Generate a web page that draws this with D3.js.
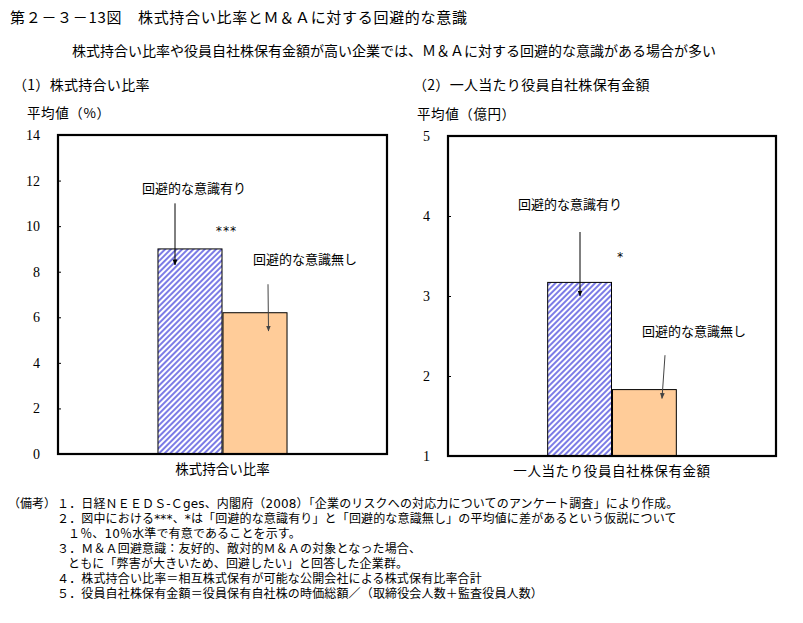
<!DOCTYPE html>
<html><head><meta charset="utf-8">
<script src="https://cdn.jsdelivr.net/npm/d3@7"></script>
<style>
body{margin:0;background:#fff;}
text{font-family:"MS Gothic","Noto Sans CJK JP",sans-serif;fill:#000;}
.num{font-family:"Liberation Serif","DejaVu Serif",serif;}
.note{font-family:"DejaVu Sans","Noto Sans CJK JP",sans-serif;}
.ast{font-family:"DejaVu Sans Mono",monospace;}
</style></head>
<body><svg id="c" width="803" height="623"></svg>
<script>
// ---- data ----
const seriesNames = ["回避的な意識有り", "回避的な意識無し"];
const categories1 = ["株式持合い比率"];
const categories2 = ["一人当たり役員自社株保有金額"];
const values1 = [9.0, 6.2];
const values2 = [3.17, 1.83];
const ticks1 = [0, 2, 4, 6, 8, 10, 12, 14];
const ticks2 = [1, 2, 3, 4, 5];
const signif1 = "***";
const signif2 = "*";
const titleText = "第２－３－13図　株式持合い比率とＭ＆Ａに対する回避的な意識";
const subtitleText = "株式持合い比率や役員自社株保有金額が高い企業では、Ｍ＆Ａに対する回避的な意識がある場合が多い";
const panelTitles = ["（1）株式持合い比率", "（2）一人当たり役員自社株保有金額"];
const yTitles = ["平均値（%）", "平均値（億円）"];
const notesHead = "（備考）";
const notes = [
  "１．日経ＮＥＥＤＳ-Ｃges、内閣府（2008）「企業のリスクへの対応力についてのアンケート調査」により作成。",
  "２．図中における***、*は「回避的な意識有り」と「回避的な意識無し」の平均値に差があるという仮説について",
  "１％、10％水準で有意であることを示す。",
  "３．Ｍ＆Ａ回避意識：友好的、敵対的Ｍ＆Ａの対象となった場合、",
  "ともに「弊害が大きいため、回避したい」と回答した企業群。",
  "４．株式持合い比率＝相互株式保有が可能な公開会社による株式保有比率合計",
  "５．役員自社株保有金額＝役員保有自社株の時価総額／（取締役会人数＋監査役員人数）"
];
const noteIndent = [0, 0, 1, 0, 1, 0, 0];

const svg = d3.select("#c");
const defs = svg.append("defs");
const pat = defs.append("pattern").attr("id","hatch").attr("patternUnits","userSpaceOnUse")
  .attr("width",4).attr("height",4).attr("patternTransform","rotate(45)");
pat.append("rect").attr("width",4).attr("height",4).attr("fill","#fff");
pat.append("rect").attr("width",2).attr("height",4).attr("fill","#7c7ce6");
const mk = defs.append("marker").attr("id","arr").attr("viewBox","0 0 10 10").attr("refX",9).attr("refY",5)
  .attr("markerWidth",6).attr("markerHeight",6).attr("orient","auto");
mk.append("path").attr("d","M0,1 L10,5 L0,9 z").attr("fill","#000");
const mk2 = defs.append("marker").attr("id","arr2").attr("viewBox","0 0 10 10").attr("refX",9).attr("refY",5)
  .attr("markerWidth",6).attr("markerHeight",6).attr("orient","auto");
mk2.append("path").attr("d","M0,1 L10,5 L0,9 z").attr("fill","#444");

// titles
svg.append("text").attr("x",10).attr("y",23).attr("font-size",15).attr("letter-spacing",0.7).text(titleText);
svg.append("text").attr("x",394).attr("y",56).attr("text-anchor","middle").attr("font-size",14).text(subtitleText);
svg.append("text").attr("x",13).attr("y",90).attr("font-size",14).attr("letter-spacing",0.3).text(panelTitles[0]);
svg.append("text").attr("x",413).attr("y",90).attr("font-size",14).attr("letter-spacing",0.3).text(panelTitles[1]);

const fills = ["url(#hatch)", "#ffcc99"];

function panel(cfg){
  const {x0,x1,yTop,yBot,domain,ticks,cats,vals,yTitle,ann} = cfg;
  const g = svg.append("g");
  const y = d3.scaleLinear().domain(domain).range([yBot,yTop]);
  const xb = d3.scaleBand().domain(cats).range([x0,x1]).paddingInner(0).paddingOuter(0.765);
  const xs = d3.scaleBand().domain(seriesNames).range([0,xb.bandwidth()]);
  // y axis
  const ax = g.append("g").attr("transform",`translate(${x0},0)`)
    .call(d3.axisRight(y).tickValues(ticks).tickSize(3).tickFormat(d3.format("d")));
  ax.select(".domain").remove();
  ax.selectAll("line").attr("stroke","#000");
  ax.selectAll("text").remove();
  g.selectAll(".tl").data(ticks).join("text").attr("class","num")
    .attr("x",x0-18).attr("y",d=>y(d)+5).attr("text-anchor","end").attr("font-size",14).text(d=>d);
  g.append("text").attr("x",x0-31).attr("y",yTop-17).attr("font-size",13.5).attr("letter-spacing",0.6).text(yTitle);
  // bars
  cats.forEach(c=>{
    g.selectAll(".bar").data(vals).join("rect")
      .attr("x",(d,i)=>xb(c)+xs(seriesNames[i])+0.5)
      .attr("y",d=>y(d)).attr("width",xs.bandwidth()-1).attr("height",d=>y(domain[0])-y(d))
      .attr("fill",(d,i)=>fills[i]).attr("stroke","#000").attr("stroke-width",1);
    g.append("text").attr("x",xb(c)+xb.bandwidth()/2).attr("y",yBot+20).attr("text-anchor","middle")
      .attr("font-size",13.5).attr("letter-spacing",cfg.lsp||0).text(c);
  });
  // frame
  g.append("rect").attr("x",x0).attr("y",yTop).attr("width",x1-x0).attr("height",yBot-yTop)
    .attr("fill","none").attr("stroke","#000").attr("stroke-width",2.2);
  // annotations
  ann.forEach(a=>{
    if(a.text) g.append("text").attr("class",a.cls||null).attr("x",a.x).attr("y",y(a.v)+(a.dy||5)).attr("text-anchor","middle")
      .attr("font-size",a.fs||13).text(a.text);
    if(a.arrow) g.append("line").attr("x1",a.x).attr("y1",y(a.v)).attr("x2",a.x2).attr("y2",y(a.v2))
      .attr("stroke",a.col||"#000").attr("stroke-width",1).attr("marker-end",a.col?"url(#arr2)":"url(#arr)");
  });
}

panel({x0:58,x1:387,yTop:135,yBot:454,domain:[0,14],ticks:ticks1,cats:categories1,vals:values1,yTitle:yTitles[0],
  ann:[
    {text:seriesNames[0],x:194,v:11.67},
    {arrow:true,x:175,v:11.0,x2:175,v2:8.3},
    {text:signif1,x:226,v:9.9,fs:12,cls:"ast",dy:7},
    {text:seriesNames[1],x:305,v:8.55},
    {arrow:true,x:268,v:7.45,x2:268.5,v2:5.4,col:"#444"}
  ]});
panel({x0:448,x1:776,yTop:136,yBot:456,domain:[1,5],ticks:ticks2,cats:categories2,vals:values2,yTitle:yTitles[1],lsp:0.6,
  ann:[
    {text:seriesNames[0],x:570,v:4.15},
    {arrow:true,x:580,v:3.8,x2:580,v2:3.0},
    {text:signif2,x:620,v:3.52,fs:12,cls:"ast",dy:7},
    {text:seriesNames[1],x:694,v:2.56},
    {arrow:true,x:665,v:2.26,x2:662,v2:1.72,col:"#444"}
  ]});

// notes
const ny0 = 508, nd = 15;
svg.append("text").attr("class","note").attr("x",8).attr("y",ny0).attr("font-size",12).text(notesHead);
notes.forEach((t,i)=>{
  svg.append("text").attr("class","note").attr("x",57+noteIndent[i]*11).attr("y",ny0+i*nd)
    .attr("font-size",12).attr("letter-spacing",0.15).text(t);
});
</script></body></html>
